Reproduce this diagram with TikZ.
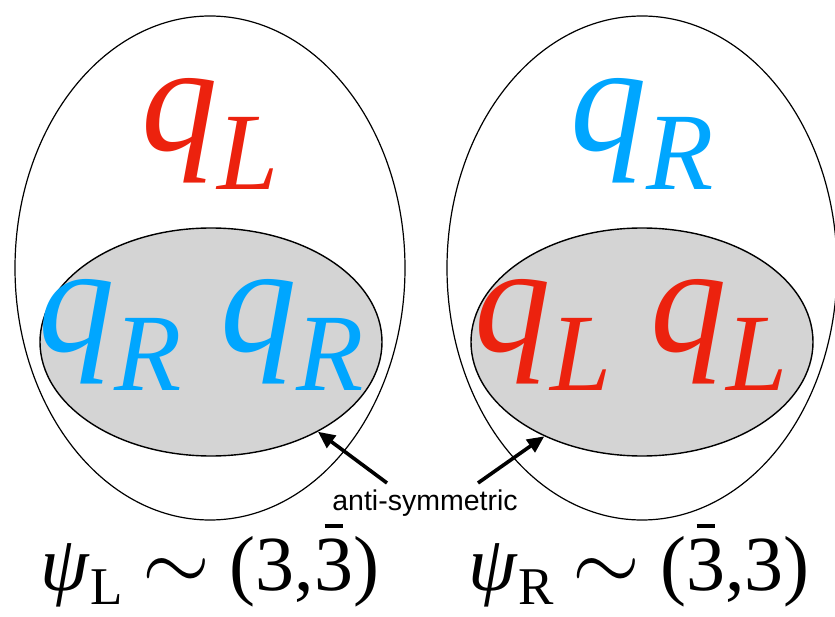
\documentclass[tikz,border=0pt]{standalone}
\usepackage{fontspec}
\setmainfont{Liberation Serif}
\newfontfamily\labelsans{Liberation Sans}
\usetikzlibrary{arrows.meta, positioning, shapes.geometric}
\definecolor{qred}{RGB}{236, 34, 14}
\definecolor{qblue}{RGB}{0, 166, 255}
\definecolor{blobgray}{RGB}{212, 212, 212}

\newcommand{\qsub}[1]{\textit{q}\raisebox{-0.25em}{\scalebox{0.72}{\textit{#1}}}}
\newcommand{\psisub}[1]{\textit{ψ}\raisebox{-0.19em}{\scalebox{0.68}{#1}}}
\newcommand{\simsign}{\scalebox{3.5}{$\sim$}}
\newcommand{\antithree}{\ooalign{3\cr\hidewidth\rule[0.8em]{0.23em}{0.045em}\hidewidth\cr}}

\tikzset{
  outerblob/.style={draw, ellipse, line width=1.2pt, inner sep=0pt,
    minimum width=390pt, minimum height=504pt},
  innerblob/.style={draw, ellipse, fill=blobgray, line width=1.4pt, inner sep=0pt,
    minimum width=342pt, minimum height=228pt},
  bigq/.style={anchor=base, inner sep=0pt, font=\fontsize{153}{153}\selectfont},
  rep/.style={anchor=base, inner sep=0pt, font=\fontsize{78}{78}\selectfont},
  pointer/.style={-{Triangle[length=17pt, width=15pt]}, line width=3.6pt},
}

\begin{document}
\begin{tikzpicture}[x=1pt, y=-1pt]
  \useasboundingbox (0,0) rectangle (835,617);

  % left: psi_L
  \node[outerblob] (outerL) at (210,268) {};
  \node[innerblob] (innerL) at (211,342) {};
  \node[bigq, qred] (topL) at (210,151) {\qsub{L}};
  \node[bigq, qblue] (pairL) at (201,352) {\qsub{R} \qsub{R}};

  % right: psi_R
  \node[outerblob] (outerR) at (642,268) {};
  \node[innerblob] (innerR) at (642,342) {};
  \node[bigq, qblue] (topR) at (642,151) {\qsub{R}};
  \node[bigq, qred] (pairR) at (631,352) {\qsub{L} \qsub{L}};

  % anti-symmetric pairs
  \node[anchor=base, inner sep=0pt, font=\labelsans\fontsize{28.5}{28.5}\selectfont] (anti) at (425,510) {anti-symmetric};
  \coordinate (tailL) at (387,483);
  \coordinate (tailR) at (478,483);
  \draw[pointer] (tailL) -- (innerL.-40);
  \draw[pointer] (tailR) -- (innerR.-136);

  % representations
  \node[rep] (repL) at (210,590) {\psisub{L} \simsign{} (3,\antithree)};
  \node[rep] (repR) at (639,590) {\psisub{R} \simsign{} (\antithree,3)};
\end{tikzpicture}
\end{document}
